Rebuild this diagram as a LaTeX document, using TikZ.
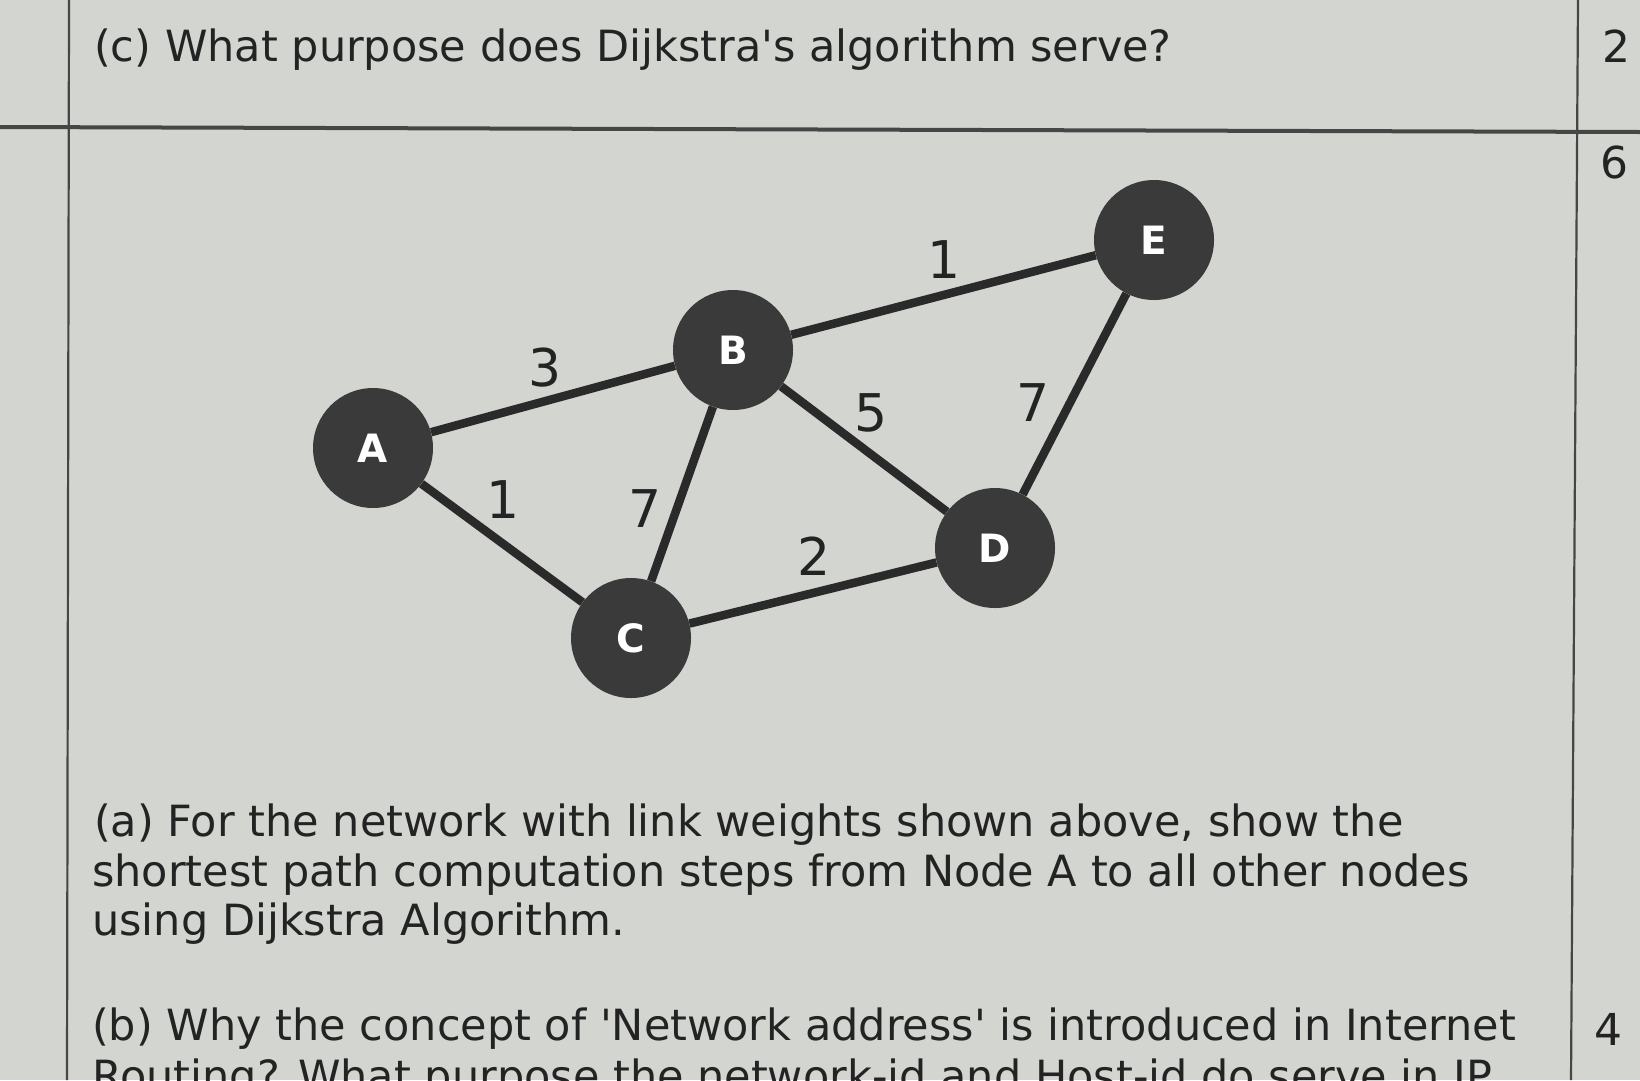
\documentclass[tikz,border=0pt]{standalone}
\usepackage{fontspec}
\setmainfont{DejaVu Sans}[Ligatures=TeXOff]
\begin{document}
\begin{tikzpicture}[x=1pt,y=-1pt,
  vnode/.style={circle,fill=nodegray,minimum size=120pt,inner sep=0pt,text=white,font=\fontsize{39}{40}\selectfont\bfseries},
  link/.style={line width=8.5pt,draw=edgegray},
  wt/.style={font=\fontsize{52}{56}\selectfont,text=txtgray,inner sep=0pt},
  qtext/.style={anchor=base west,inner sep=0pt,text=txtgray,font=\fontsize{43}{50}\selectfont},
  marknum/.style={anchor=base,inner sep=0pt,text=txtgray,font=\fontsize{44}{50}\selectfont},
  rule/.style={draw=rulegray,line width=2.2pt}]
\definecolor{paper}{RGB}{211,213,209}
\definecolor{nodegray}{RGB}{58,58,58}
\definecolor{edgegray}{RGB}{42,42,42}
\definecolor{txtgray}{RGB}{35,35,35}
\definecolor{rulegray}{RGB}{70,70,70}
\useasboundingbox (0,0) rectangle (1640,1080);
\clip (0,0) rectangle (1640,1080);
\fill[paper] (0,0) rectangle (1640,1080);
% table rules
\draw[rule] (69,0) -- (67,1080);
\draw[rule] (1578,0) -- (1571,1080);
\draw[draw=rulegray,line width=4pt] (0,127) -- (1640,132);
% question texts
\node[qtext] (qc) at (94,61) {(c) What purpose does Dijkstra's algorithm serve?};
\node[marknum] (m2) at (1616,62) {2};
\node[marknum] (m6) at (1614,178) {6};
\node[qtext] (qa1) at (94,836) {(a) For the network with link weights shown above, show the};
\node[qtext] (qa2) at (92,886) {shortest path computation steps from Node A to all other nodes};
\node[qtext] (qa3) at (92,935) {using Dijkstra Algorithm.};
\node[qtext] (qb1) at (92,1040) {(b) Why the concept of 'Network address' is introduced in Internet};
\node[qtext] (qb2) at (92,1091) {Routing? What purpose the network-id and Host-id do serve in IP};
\node[marknum] (m4) at (1608,1045) {4};
% graph
\node[vnode] (A) at (373,448) {A};
\node[vnode] (B) at (733,350) {B};
\node[vnode] (C) at (631,638) {C};
\node[vnode] (D) at (995,548) {D};
\node[vnode] (E) at (1154,240) {E};
\draw[link] (A) -- (B);
\draw[link] (A) -- (C);
\draw[link] (B) -- (C);
\draw[link] (B) -- (D);
\draw[link] (B) -- (E);
\draw[link] (C) -- (D);
\draw[link] (D) -- (E);
\node[wt] (wAB) at (545,368) {3};
\node[wt] (wAC) at (503,500) {1};
\node[wt] (wBC) at (645,509) {7};
\node[wt] (wBD) at (871,413) {5};
\node[wt] (wDE) at (1033,403) {7};
\node[wt] (wBE) at (944,260) {1};
\node[wt] (wCD) at (814,556) {2};
\end{tikzpicture}
\end{document}
